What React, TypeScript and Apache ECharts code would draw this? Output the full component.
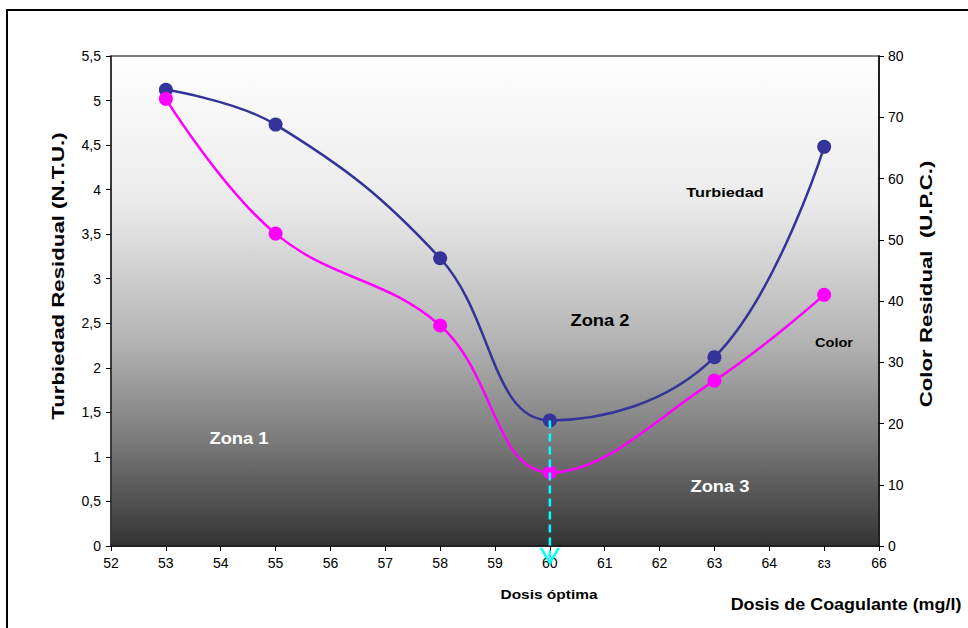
import React, { useEffect, useRef } from "react";
import * as echarts from "echarts";

const dosis = [53, 55, 58, 60, 63, 65];
const turbiedad = [5.12, 4.73, 3.23, 1.41, 2.12, 4.48];
const color = [73, 51, 36, 12, 27, 41];
const xTickLabels: Record<number, string> = {
  52: "52", 53: "53", 54: "54", 55: "55", 56: "56", 57: "57", 58: "58", 59: "59",
  60: "60", 61: "61", 62: "62", 63: "63", 64: "64", 65: "ɛɜ", 66: "66",
};
const dosisOptima = 60;
const turbiedadOptima = 1.41;
const arrowTip = -0.19;

const FONT = "'Liberation Sans', Arial, sans-serif";

export default function App() {
  const ref = useRef<HTMLDivElement>(null);
  useEffect(() => {
    if (!ref.current) return;
    const chart = echarts.init(ref.current, null, { renderer: "svg" });
    const bg = new echarts.graphic.LinearGradient(0, 0, 0, 1, [
      { offset: 0, color: "#ffffff" },
      { offset: 0.3, color: "#ebebeb" },
      { offset: 0.58, color: "#b4b4b4" },
      { offset: 0.78, color: "#7c7c7c" },
      { offset: 0.9, color: "#545454" },
      { offset: 1, color: "#333333" },
    ]);
    const tb = { fontFamily: FONT, fontWeight: "bold" as const, textAlign: "center" as const, textVerticalAlign: "middle" as const };
    chart.setOption({
      animation: false,
      textStyle: { fontFamily: FONT },
      grid: {
        left: 111, top: 56, right: 89, bottom: 82,
        show: true, backgroundColor: bg, borderColor: "#808080", borderWidth: 2,
      },
      xAxis: {
        type: "value", min: 52, max: 66, interval: 1,
        axisLine: { show: true, lineStyle: { color: "#000", width: 1.5 } },
        axisTick: { show: true, length: 5, lineStyle: { color: "#000" } },
        splitLine: { show: false },
        axisLabel: {
          color: "#000", fontSize: 14, margin: 10, fontFamily: FONT,
          formatter: (v: number) => xTickLabels[v] ?? String(v),
        },
      },
      yAxis: [
        {
          type: "value", min: 0, max: 5.5, interval: 0.5,
          axisLine: { show: true, lineStyle: { color: "#222", width: 1.5 } },
          axisTick: { show: true, length: 5, lineStyle: { color: "#000" } },
          splitLine: { show: false },
          axisLabel: {
            color: "#000", fontSize: 14, margin: 10, fontFamily: FONT,
            formatter: (v: number) => String(v).replace(".", ","),
          },
        },
        {
          type: "value", min: 0, max: 80, interval: 10, position: "right",
          axisLine: { show: true, lineStyle: { color: "#000", width: 1.5 } },
          axisTick: { show: true, length: 5, lineStyle: { color: "#000" } },
          splitLine: { show: false },
          axisLabel: { color: "#000", fontSize: 14, margin: 9, fontFamily: FONT },
        },
      ],
      series: [
        {
          name: "Turbiedad", type: "line", yAxisIndex: 0, smooth: 0.4,
          data: dosis.map((d, i) => [d, turbiedad[i]]),
          symbol: "circle", symbolSize: 14,
          itemStyle: { color: "#333399" },
          lineStyle: { color: "#333399", width: 2.5 },
          z: 3,
        },
        {
          name: "Color", type: "line", yAxisIndex: 1, smooth: 0.4,
          data: dosis.map((d, i) => [d, color[i]]),
          symbol: "circle", symbolSize: 14,
          itemStyle: { color: "#ff00ff" },
          lineStyle: { color: "#ff00ff", width: 2.5 },
          z: 3,
        },
        {
          type: "custom", yAxisIndex: 0, clip: false, z: 5,
          data: [[dosisOptima, turbiedadOptima, arrowTip]],
          encode: { x: 0, y: [1, 2] },
          renderItem: (params: any, api: any) => {
            const top = api.coord([api.value(0), api.value(1)]);
            const bot = api.coord([api.value(0), api.value(2)]);
            return {
              type: "group",
              children: [
                {
                  type: "line",
                  shape: { x1: top[0], y1: top[1], x2: bot[0], y2: bot[1] },
                  style: { stroke: "#00ffff", lineWidth: 2.5, lineDash: [8, 5] },
                },
                {
                  type: "polyline",
                  shape: { points: [[bot[0] - 9, bot[1] - 15], [bot[0], bot[1]], [bot[0] + 9, bot[1] - 15]] },
                  style: { stroke: "#00ffff", lineWidth: 2.5, fill: "none" },
                },
              ],
            };
          },
        },
      ],
      graphic: [
        {
          type: "rect", shape: { x: 7, y: 10, width: 1000, height: 700 },
          style: { fill: "none", stroke: "#000", lineWidth: 2 }, silent: true,
        },
        { type: "text", x: 58, y: 276, rotation: Math.PI / 2, scaleX: 1.39, style: { ...tb, text: "Turbiedad Residual (N.T.U.)", fontSize: 16, fill: "#000" } },
        { type: "text", x: 926, y: 284, rotation: Math.PI / 2, scaleX: 1.39, style: { ...tb, text: "Color Residual  (U.P.C.)", fontSize: 16, fill: "#000" } },
        { type: "text", x: 239, y: 438, scaleX: 1.08, style: { ...tb, text: "Zona 1", fontSize: 17, fill: "#fff" } },
        { type: "text", x: 600, y: 320, scaleX: 1.08, style: { ...tb, text: "Zona 2", fontSize: 17, fill: "#000" } },
        { type: "text", x: 720, y: 486, scaleX: 1.08, style: { ...tb, text: "Zona 3", fontSize: 17, fill: "#fff" } },
        { type: "text", x: 725, y: 193, scaleX: 1.25, style: { ...tb, text: "Turbiedad", fontSize: 13, fill: "#000" } },
        { type: "text", x: 834, y: 343, scaleX: 1.12, style: { ...tb, text: "Color", fontSize: 13, fill: "#000" } },
        { type: "text", x: 549, y: 594, scaleX: 1.19, style: { ...tb, text: "Dosis óptima", fontSize: 13, fill: "#000" } },
        { type: "text", x: 846, y: 605, scaleX: 1.12, style: { ...tb, text: "Dosis de Coagulante (mg/l)", fontSize: 16, fill: "#000" } },
      ],
    });
    return () => chart.dispose();
  }, []);
  return (
    <div
      ref={ref}
      style={{ position: "fixed", left: 0, top: 0, width: 968, height: 628, background: "#fff" }}
    />
  );
}
